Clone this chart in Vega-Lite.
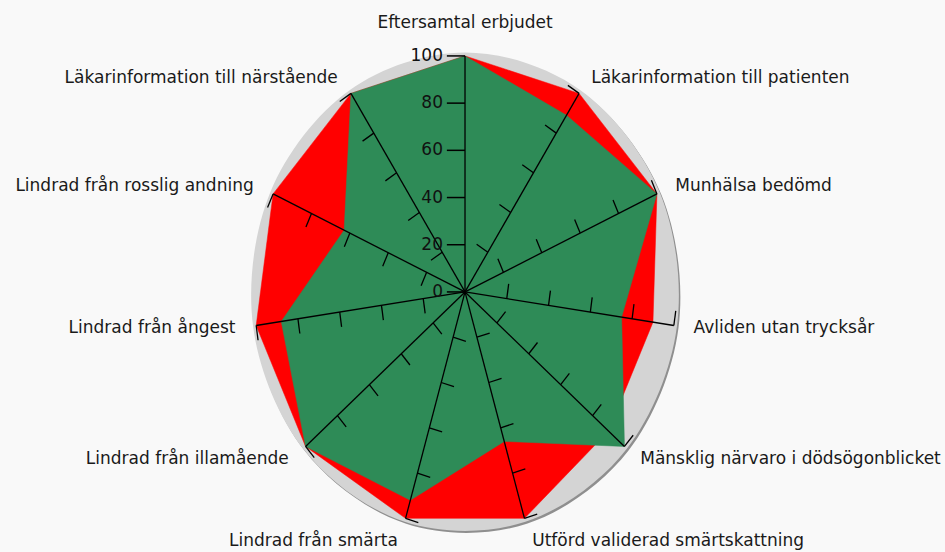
{
  "$schema": "https://vega.github.io/schema/vega-lite/v6.json",
  "width": 945,
  "height": 552,
  "autosize": {"type": "none"},
  "padding": 0,
  "background": "#f9f9f9",
  "config": {"view": {"stroke": null}},
  "datasets": {
    "axes": [
      {"idx": 0, "label": "Eftersamtal erbjudet", "ticks": [20, 40, 60, 80, 100]},
      {"idx": 1, "label": "Läkarinformation till patienten", "ticks": [20, 40, 60, 80, 100]},
      {"idx": 2, "label": "Munhälsa bedömd", "ticks": [20, 40, 60, 80, 100]},
      {"idx": 3, "label": "Avliden utan trycksår", "ticks": [20, 40, 60, 80, 100]},
      {"idx": 4, "label": "Mänsklig närvaro i dödsögonblicket", "ticks": [20, 40, 60, 80, 100]},
      {"idx": 5, "label": "Utförd validerad smärtskattning", "ticks": [20, 40, 60, 80, 100]},
      {"idx": 6, "label": "Lindrad från smärta", "ticks": [20, 40, 60, 80, 100]},
      {"idx": 7, "label": "Lindrad från illamående", "ticks": [20, 40, 60, 80, 100]},
      {"idx": 8, "label": "Lindrad från ångest", "ticks": [20, 40, 60, 80, 100]},
      {"idx": 9, "label": "Lindrad från rosslig andning", "ticks": [20, 40, 60, 80, 100]},
      {"idx": 10, "label": "Läkarinformation till närstående", "ticks": [20, 40, 60, 80, 100]}
    ],
    "scaleTicks": [{"t": 0}, {"t": 20}, {"t": 40}, {"t": 60}, {"t": 80}, {"t": 100}],
    "scores": [
      {"idx": 0, "serie": "A", "value": 100},
      {"idx": 1, "serie": "A", "value": 100},
      {"idx": 2, "serie": "A", "value": 100},
      {"idx": 3, "serie": "A", "value": 90},
      {"idx": 4, "serie": "A", "value": 90},
      {"idx": 5, "serie": "A", "value": 100},
      {"idx": 6, "serie": "A", "value": 100},
      {"idx": 7, "serie": "A", "value": 100},
      {"idx": 8, "serie": "A", "value": 100},
      {"idx": 9, "serie": "A", "value": 100},
      {"idx": 10, "serie": "A", "value": 100},
      {"idx": 0, "serie": "B", "value": 100},
      {"idx": 1, "serie": "B", "value": 89},
      {"idx": 2, "serie": "B", "value": 100},
      {"idx": 3, "serie": "B", "value": 75},
      {"idx": 4, "serie": "B", "value": 100},
      {"idx": 5, "serie": "B", "value": 66},
      {"idx": 6, "serie": "B", "value": 92},
      {"idx": 7, "serie": "B", "value": 100},
      {"idx": 8, "serie": "B", "value": 88},
      {"idx": 9, "serie": "B", "value": 63},
      {"idx": 10, "serie": "B", "value": 100}
    ]
  },
  "layer": [
    {
      "data": {"name": "axes"},
      "transform": [
        {"calculate": "datum.idx * 2 * PI / 11", "as": "a"},
        {"calculate": "101.5 * sin(datum.a)", "as": "px"},
        {"calculate": "101.5 * cos(datum.a)", "as": "py"}
      ],
      "mark": {"type": "line", "interpolate": "cardinal-closed", "fill": "#8f8f8f", "stroke": "#8f8f8f", "strokeWidth": 0, "xOffset": 1.5, "yOffset": 2},
      "encoding": {
        "x": {"field": "px", "type": "quantitative", "scale": {"domain": [-220.4, 227.5], "nice": false, "zero": false}, "axis": null},
        "y": {"field": "py", "type": "quantitative", "scale": {"domain": [-110.2, 123.7], "nice": false, "zero": false}, "axis": null},
        "order": {"field": "idx", "type": "quantitative"}
      }
    },
    {
      "data": {"name": "axes"},
      "transform": [
        {"calculate": "datum.idx * 2 * PI / 11", "as": "a"},
        {"calculate": "101.5 * sin(datum.a)", "as": "px"},
        {"calculate": "101.5 * cos(datum.a)", "as": "py"}
      ],
      "mark": {"type": "line", "interpolate": "cardinal-closed", "fill": "#d4d4d4", "stroke": "#d4d4d4", "strokeWidth": 0},
      "encoding": {
        "x": {"field": "px", "type": "quantitative", "scale": {"domain": [-220.4, 227.5], "nice": false, "zero": false}, "axis": null},
        "y": {"field": "py", "type": "quantitative", "scale": {"domain": [-110.2, 123.7], "nice": false, "zero": false}, "axis": null},
        "order": {"field": "idx", "type": "quantitative"}
      }
    },
    {
      "data": {"name": "scores"},
      "transform": [
        {"filter": "datum.serie == 'A'"},
        {"calculate": "datum.idx * 2 * PI / 11", "as": "a"},
        {"calculate": "datum.value * sin(datum.a)", "as": "px"},
        {"calculate": "datum.value * cos(datum.a)", "as": "py"}
      ],
      "mark": {"type": "line", "interpolate": "linear-closed", "fill": "#ff0000", "stroke": "#ff0000", "strokeWidth": 0.5},
      "encoding": {
        "x": {"field": "px", "type": "quantitative", "scale": {"domain": [-220.4, 227.5], "nice": false, "zero": false}, "axis": null},
        "y": {"field": "py", "type": "quantitative", "scale": {"domain": [-110.2, 123.7], "nice": false, "zero": false}, "axis": null},
        "order": {"field": "idx", "type": "quantitative"}
      }
    },
    {
      "data": {"name": "scores"},
      "transform": [
        {"filter": "datum.serie == 'B'"},
        {"calculate": "datum.idx * 2 * PI / 11", "as": "a"},
        {"calculate": "datum.value * sin(datum.a)", "as": "px"},
        {"calculate": "datum.value * cos(datum.a)", "as": "py"}
      ],
      "mark": {"type": "line", "interpolate": "linear-closed", "fill": "#2e8b57", "stroke": "#2e8b57", "strokeWidth": 0.5},
      "encoding": {
        "x": {"field": "px", "type": "quantitative", "scale": {"domain": [-220.4, 227.5], "nice": false, "zero": false}, "axis": null},
        "y": {"field": "py", "type": "quantitative", "scale": {"domain": [-110.2, 123.7], "nice": false, "zero": false}, "axis": null},
        "order": {"field": "idx", "type": "quantitative"}
      }
    },
    {
      "data": {"name": "axes"},
      "transform": [
        {"calculate": "datum.idx * 2 * PI / 11", "as": "a"},
        {"calculate": "0", "as": "sx"},
        {"calculate": "0", "as": "sy"},
        {"calculate": "100 * sin(datum.a)", "as": "ex"},
        {"calculate": "100 * cos(datum.a)", "as": "ey"}
      ],
      "mark": {"type": "rule", "color": "#000000", "strokeWidth": 1.3},
      "encoding": {
        "x": {"field": "sx", "type": "quantitative", "scale": {"domain": [-220.4, 227.5], "nice": false, "zero": false}, "axis": null},
        "y": {"field": "sy", "type": "quantitative", "scale": {"domain": [-110.2, 123.7], "nice": false, "zero": false}, "axis": null},
        "x2": {"field": "ex"},
        "y2": {"field": "ey"}
      }
    },
    {
      "data": {"name": "axes"},
      "transform": [
        {"filter": "datum.idx > 0"},
        {"flatten": ["ticks"], "as": ["t"]},
        {"calculate": "datum.idx * 2 * PI / 11", "as": "a"},
        {"calculate": "datum.t * sin(datum.a)", "as": "sx"},
        {"calculate": "datum.t * cos(datum.a)", "as": "sy"},
        {"calculate": "datum.sx - 6.3 * cos(datum.a)", "as": "ex"},
        {"calculate": "datum.sy + 6.3 * sin(datum.a)", "as": "ey"}
      ],
      "mark": {"type": "rule", "color": "#000000", "strokeWidth": 1.3},
      "encoding": {
        "x": {"field": "sx", "type": "quantitative", "scale": {"domain": [-220.4, 227.5], "nice": false, "zero": false}, "axis": null},
        "y": {"field": "sy", "type": "quantitative", "scale": {"domain": [-110.2, 123.7], "nice": false, "zero": false}, "axis": null},
        "x2": {"field": "ex"},
        "y2": {"field": "ey"}
      }
    },
    {
      "data": {"name": "scaleTicks"},
      "transform": [
        {"calculate": "0", "as": "sx"},
        {"calculate": "-8.6", "as": "ex"}
      ],
      "mark": {"type": "rule", "color": "#000000", "strokeWidth": 1.5},
      "encoding": {
        "x": {"field": "sx", "type": "quantitative", "scale": {"domain": [-220.4, 227.5], "nice": false, "zero": false}, "axis": null},
        "x2": {"field": "ex"},
        "y": {"field": "t", "type": "quantitative", "scale": {"domain": [-110.2, 123.7], "nice": false, "zero": false}, "axis": null}
      }
    },
    {
      "data": {"name": "scaleTicks"},
      "transform": [
        {"calculate": "0", "as": "sx"}
      ],
      "mark": {"type": "text", "align": "right", "baseline": "middle", "dx": -22, "font": "DejaVu Sans", "fontSize": 17, "color": "#111111"},
      "encoding": {
        "x": {"field": "sx", "type": "quantitative", "scale": {"domain": [-220.4, 227.5], "nice": false, "zero": false}, "axis": null},
        "y": {"field": "t", "type": "quantitative", "scale": {"domain": [-110.2, 123.7], "nice": false, "zero": false}, "axis": null},
        "text": {"field": "t", "type": "quantitative"}
      }
    },
    {
      "data": {"name": "axes"},
      "transform": [
        {"filter": "datum.idx >= 1 && datum.idx <= 4"},
        {"calculate": "datum.idx * 2 * PI / 11", "as": "a"},
        {"calculate": "108 * sin(datum.a)", "as": "lx"},
        {"calculate": "108 * cos(datum.a)", "as": "ly"}
      ],
      "mark": {"type": "text", "align": "left", "baseline": "middle", "dx": 3, "font": "DejaVu Sans", "fontSize": 17, "color": "#1a1a1a"},
      "encoding": {
        "x": {"field": "lx", "type": "quantitative", "scale": {"domain": [-220.4, 227.5], "nice": false, "zero": false}, "axis": null},
        "y": {"field": "ly", "type": "quantitative", "scale": {"domain": [-110.2, 123.7], "nice": false, "zero": false}, "axis": null},
        "text": {"field": "label", "type": "nominal"}
      }
    },
    {
      "data": {"name": "axes"},
      "transform": [
        {"filter": "datum.idx == 5"},
        {"calculate": "datum.idx * 2 * PI / 11", "as": "a"},
        {"calculate": "108 * sin(datum.a)", "as": "lx"},
        {"calculate": "108 * cos(datum.a)", "as": "ly"}
      ],
      "mark": {"type": "text", "align": "left", "baseline": "middle", "dx": 3, "dy": 5, "font": "DejaVu Sans", "fontSize": 17, "color": "#1a1a1a"},
      "encoding": {
        "x": {"field": "lx", "type": "quantitative", "scale": {"domain": [-220.4, 227.5], "nice": false, "zero": false}, "axis": null},
        "y": {"field": "ly", "type": "quantitative", "scale": {"domain": [-110.2, 123.7], "nice": false, "zero": false}, "axis": null},
        "text": {"field": "label", "type": "nominal"}
      }
    },
    {
      "data": {"name": "axes"},
      "transform": [
        {"filter": "datum.idx == 6"},
        {"calculate": "datum.idx * 2 * PI / 11", "as": "a"},
        {"calculate": "108 * sin(datum.a)", "as": "lx"},
        {"calculate": "108 * cos(datum.a)", "as": "ly"}
      ],
      "mark": {"type": "text", "align": "right", "baseline": "middle", "dx": -3, "dy": 5, "font": "DejaVu Sans", "fontSize": 17, "color": "#1a1a1a"},
      "encoding": {
        "x": {"field": "lx", "type": "quantitative", "scale": {"domain": [-220.4, 227.5], "nice": false, "zero": false}, "axis": null},
        "y": {"field": "ly", "type": "quantitative", "scale": {"domain": [-110.2, 123.7], "nice": false, "zero": false}, "axis": null},
        "text": {"field": "label", "type": "nominal"}
      }
    },
    {
      "data": {"name": "axes"},
      "transform": [
        {"filter": "datum.idx >= 7"},
        {"calculate": "datum.idx * 2 * PI / 11", "as": "a"},
        {"calculate": "108 * sin(datum.a)", "as": "lx"},
        {"calculate": "108 * cos(datum.a)", "as": "ly"}
      ],
      "mark": {"type": "text", "align": "right", "baseline": "middle", "dx": -4, "font": "DejaVu Sans", "fontSize": 17, "color": "#1a1a1a"},
      "encoding": {
        "x": {"field": "lx", "type": "quantitative", "scale": {"domain": [-220.4, 227.5], "nice": false, "zero": false}, "axis": null},
        "y": {"field": "ly", "type": "quantitative", "scale": {"domain": [-110.2, 123.7], "nice": false, "zero": false}, "axis": null},
        "text": {"field": "label", "type": "nominal"}
      }
    },
    {
      "data": {"name": "axes"},
      "transform": [
        {"filter": "datum.idx == 0"},
        {"calculate": "0", "as": "lx"},
        {"calculate": "108", "as": "ly"}
      ],
      "mark": {"type": "text", "align": "center", "baseline": "middle", "dy": -14, "font": "DejaVu Sans", "fontSize": 17, "color": "#1a1a1a"},
      "encoding": {
        "x": {"field": "lx", "type": "quantitative", "scale": {"domain": [-220.4, 227.5], "nice": false, "zero": false}, "axis": null},
        "y": {"field": "ly", "type": "quantitative", "scale": {"domain": [-110.2, 123.7], "nice": false, "zero": false}, "axis": null},
        "text": {"field": "label", "type": "nominal"}
      }
    }
  ]
}
